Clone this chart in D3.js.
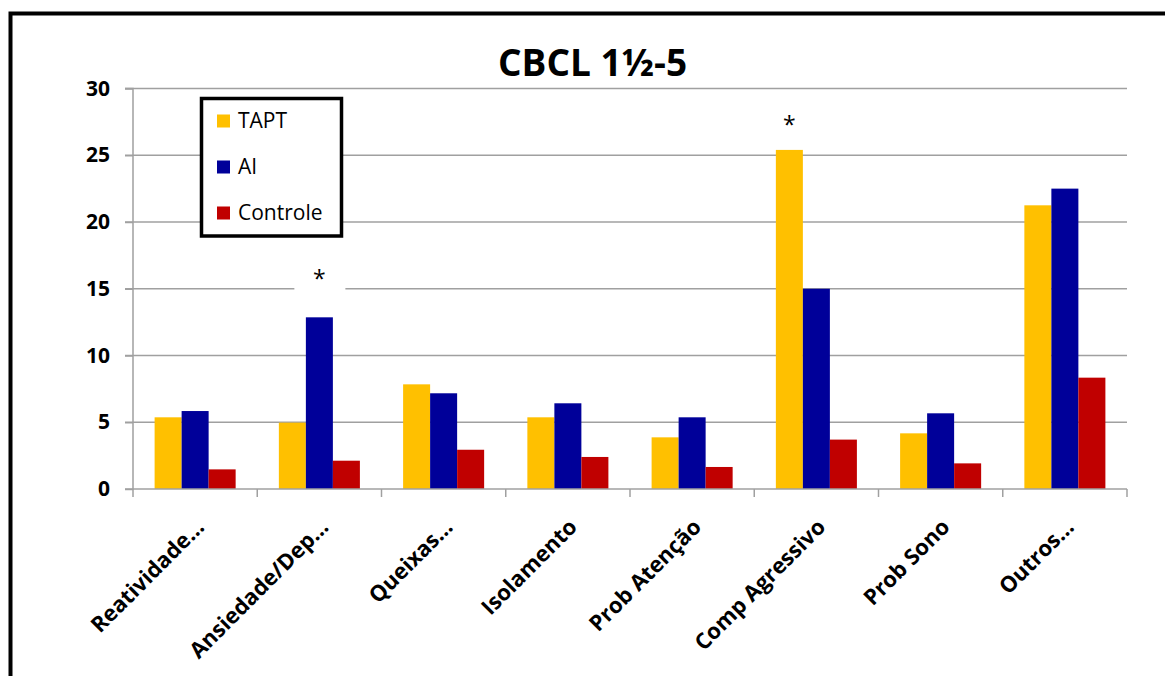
<!DOCTYPE html>
<html><head><meta charset="utf-8">
<script src="https://cdn.jsdelivr.net/npm/d3@7"></script>
<style>body{margin:0;background:#fff;} svg{display:block;font-family:"Open Sans",sans-serif;}</style>
</head><body><svg id="c" width="1165" height="676"></svg>
<script>
const categories = ["Reatividade…","Ansiedade/Dep…","Queixas…","Isolamento","Prob Atenção","Comp Agressivo","Prob Sono","Outros…"];
const seriesNames = ["TAPT","AI","Controle"];
const seriesColors = ["#FFC000","#000099","#C00000"];
const tapt = [5.37,4.97,7.84,5.37,3.87,25.4,4.17,21.25];
const ai = [5.84,12.86,7.17,6.42,5.37,15.0,5.67,22.5];
const controle = [1.47,2.12,2.94,2.40,1.65,3.7,1.92,8.34];
const yTicks = [0,5,10,15,20,25,30];
const title = "CBCL 1½-5";
const sigCats = ["Ansiedade/Dep…","Comp Agressivo"];
const sigSeries = ["AI","TAPT"];
const sigLevels = [16.0,27.6];

const seriesValues = [tapt, ai, controle];
const svg = d3.select("#c");
const L = 133, R = 1127, T = 88.5, B = 489;

const x0 = d3.scaleBand().domain(categories).range([L, R]).padding(0);
const x1 = d3.scaleBand().domain(seriesNames).range([0, x0.bandwidth()]).paddingInner(0).paddingOuter(0.8);
const y = d3.scaleLinear().domain([0, 30]).range([B, T]);
const color = d3.scaleOrdinal().domain(seriesNames).range(seriesColors);

// frame
svg.append("rect").attr("x",10.5).attr("y",13.5).attr("width",1200).attr("height",720)
  .attr("fill","#fff").attr("stroke","#000").attr("stroke-width",4);

// title
svg.append("text").attr("x",592.5).attr("y",76).attr("text-anchor","middle")
  .attr("font-weight","bold").attr("font-size",37).attr("fill","#000").text(title);

// gridlines
svg.append("g").selectAll("line").data(yTicks.filter(d=>d>0)).join("line")
  .attr("x1",L-8).attr("x2",R).attr("y1",d=>y(d)).attr("y2",d=>y(d))
  .attr("stroke","#a0a0a0").attr("stroke-width",1.5);

// y axis
const ya = svg.append("g").attr("transform",`translate(${L},0)`)
  .call(d3.axisLeft(y).tickValues(yTicks).tickSize(8).tickPadding(15));
ya.selectAll("path,line").attr("stroke","#a0a0a0").attr("stroke-width",1.5);
ya.select(".domain").attr("d",`M-8,${T}H0V${B}H-8`);
ya.selectAll("text").attr("font-family","Open Sans").attr("font-weight","bold").attr("font-size",21).attr("fill","#000");

// bars
const groups = svg.append("g").selectAll("g").data(categories).join("g")
  .attr("transform",c=>`translate(${x0(c)},0)`);
groups.selectAll("rect").data((c,i)=>seriesNames.map((s,j)=>({s, v: seriesValues[j][i]}))).join("rect")
  .attr("x",d=>x1(d.s)).attr("width",x1.bandwidth())
  .attr("y",d=>y(d.v)).attr("height",d=>B-y(d.v)).attr("fill",d=>color(d.s));

// x axis
const xg = svg.append("g");
xg.append("line").attr("x1",L).attr("x2",R).attr("y1",B).attr("y2",B).attr("stroke","#a0a0a0").attr("stroke-width",1.5);
const bounds = categories.map(c=>x0(c)).concat([R]);
xg.selectAll("line.t").data(bounds).join("line").attr("class","t")
  .attr("x1",d=>d).attr("x2",d=>d).attr("y1",B).attr("y2",B+8).attr("stroke","#a0a0a0").attr("stroke-width",1.5);
xg.selectAll("text").data(categories).join("text")
  .attr("transform",c=>`translate(${x0(c)+x0.bandwidth()/2+5},${B+34}) rotate(-45)`)
  .attr("text-anchor","end").attr("dy","0.35em")
  .attr("font-weight","bold").attr("font-size",22).attr("fill","#000").text(c=>c);

// significance markers
const sig = svg.append("g").selectAll("g").data(sigCats.map((c,i)=>({c, s: sigSeries[i], v: sigLevels[i]}))).join("g")
  .attr("transform",d=>`translate(${x0(d.c)+x1(d.s)+x1.bandwidth()/2},${y(d.v)})`);
sig.append("rect").attr("x",-25).attr("y",-14).attr("width",51).attr("height",30).attr("fill","#fff");
sig.append("text").attr("text-anchor","middle").attr("y",12).attr("font-size",23).attr("fill","#000").text("*");

// legend
const lg = svg.append("g");
lg.append("rect").attr("x",201.5).attr("y",98.5).attr("width",140).attr("height",137.5)
  .attr("fill","#fff").attr("stroke","#000").attr("stroke-width",3.5);
const items = lg.selectAll("g").data(seriesNames).join("g")
  .attr("transform",(d,i)=>`translate(217,${121+i*46})`);
items.append("rect").attr("x",0).attr("y",-6.5).attr("width",13).attr("height",13).attr("fill",d=>color(d));
items.append("text").attr("x",21).attr("dy","0.35em").attr("font-size",21).attr("fill","#000").text(d=>d);
</script></body></html>
